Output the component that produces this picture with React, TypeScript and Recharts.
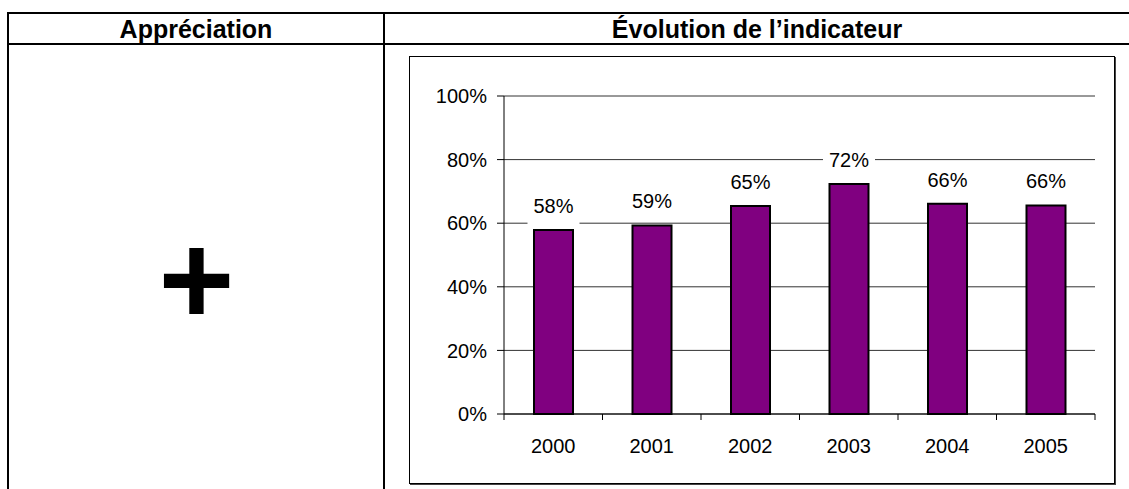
import React from 'react';
import { BarChart, Bar, XAxis, YAxis, CartesianGrid, LabelList } from 'recharts';

const years = ['2000', '2001', '2002', '2003', '2004', '2005'];
const values = [57.9, 59.3, 65.4, 72.3, 66.1, 65.6];
const yTicks = [0, 20, 40, 60, 80, 100];
const headerLeft = 'Appréciation';
const headerRight = 'Évolution de l’indicateur';
const appreciation = '+';

const data = years.map((y, i) => ({ year: y, value: values[i] }));

const FONT = '"Liberation Sans", Arial, sans-serif';

const XTick = (props: any) => {
  const { x, y, payload, index, visibleTicksCount, width } = props;
  const half = payload && typeof payload.offset === 'number' && payload.offset > 0
    ? payload.offset
    : width / visibleTicksCount / 2;
  return (
    <g>
      <line x1={x - half} x2={x - half} y1={y} y2={y + 6} stroke="#000" strokeWidth={1} />
      {index === visibleTicksCount - 1 && (
        <line x1={x + half} x2={x + half} y1={y} y2={y + 6} stroke="#000" strokeWidth={1} />
      )}
      <text x={x} y={y + 38.5} textAnchor="middle" fontSize={20} fontFamily={FONT} fill="#000">
        {payload.value}
      </text>
    </g>
  );
};

const BarLabel = (props: any) => {
  const { x, y, width, value } = props;
  const cx = x + width / 2;
  const base = y - 17;
  const txt = Math.round(Number(value)) + '%';
  return (
    <g>
      <rect x={cx - 26} y={base - 19} width={52} height={31} fill="#fff" />
      <text x={cx} y={base} textAnchor="middle" fontSize={20} fontFamily={FONT} fill="#000">
        {txt}
      </text>
    </g>
  );
};

export default function App() {
  return (
    <div style={{ position: 'absolute', left: 0, top: 0, width: 1129, height: 489, background: '#fff', overflow: 'hidden' }}>
      <svg width={1129} height={489} style={{ position: 'absolute', left: 0, top: 0 }}>
        <rect x={7} y={12} width={1122} height={2} fill="#000" />
        <rect x={7} y={43} width={1122} height={2} fill="#000" />
        <rect x={7} y={12} width={2} height={477} fill="#000" />
        <rect x={383} y={12} width={2} height={477} fill="#000" />
        <text x={196} y={37.5} textAnchor="middle" fontSize={25} fontWeight="bold" fontFamily={FONT} fill="#000">
          {headerLeft}
        </text>
        <text x={757} y={37.5} textAnchor="middle" fontSize={25} fontWeight="bold" fontFamily={FONT} fill="#000">
          {headerRight}
        </text>
        <text x={196.5} y={324} textAnchor="middle" fontSize={130} fontWeight="bold" fontFamily={FONT} fill="#000">
          {appreciation}
        </text>
      </svg>
      <div
        style={{
          position: 'absolute',
          left: 409,
          top: 56,
          width: 706,
          height: 428,
          boxSizing: 'border-box',
          border: '1px solid #000',
          boxShadow: '1px 1px 0 #444',
        }}
      />
      <div style={{ position: 'absolute', left: 409, top: 56 }}>
        <BarChart width={706} height={428} data={data} margin={{ top: 40, right: 20, left: 0, bottom: 40 }}>
          <CartesianGrid vertical={false} stroke="#333" strokeWidth={1} />
          <XAxis
            dataKey="year"
            interval={0}
            height={30}
            tickLine={false}
            tickSize={0}
            tickMargin={0}
            axisLine={{ stroke: '#000' }}
            tick={(p: any) => <XTick {...p} />}
          />
          <YAxis
            width={95}
            domain={[0, 100]}
            ticks={yTicks}
            interval={0}
            tickFormatter={(v: number) => v + '%'}
            tickSize={7}
            tickMargin={10}
            axisLine={{ stroke: '#000' }}
            tickLine={{ stroke: '#000' }}
            tick={{ fill: '#000', fontSize: 20, fontFamily: FONT }}
          />
          <Bar dataKey="value" fill="#800080" stroke="#000" strokeWidth={2} barSize={39} isAnimationActive={false}>
            <LabelList dataKey="value" content={(p: any) => <BarLabel {...p} />} />
          </Bar>
        </BarChart>
      </div>
    </div>
  );
}
